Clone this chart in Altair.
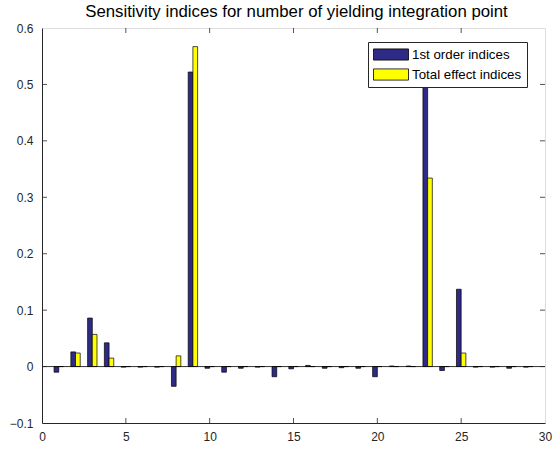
import altair as alt
import pandas as pd

title_text = ["Sensitivity indices for number of yielding integration point"]
idx = list(range(1, 30))
first_order = [-0.010, 0.026, 0.086, 0.042, -0.001, -0.001, -0.001, -0.035, 0.522, -0.003,
               -0.010, -0.003, -0.001, -0.018, -0.004, 0.002, -0.003, -0.002, -0.003, -0.018,
               0.001, 0.001, 0.540, -0.007, 0.137, -0.001, -0.001, -0.003, -0.001]
total_effect = [0.000, 0.024, 0.057, 0.015, 0.000, 0.000, 0.000, 0.019, 0.567, 0.000,
                0.000, 0.000, 0.000, 0.000, 0.000, 0.000, 0.000, 0.000, 0.000, 0.000,
                0.000, 0.000, 0.334, 0.000, 0.024, 0.000, 0.000, 0.000, 0.000]
series_names = ["1st order indices", "Total effect indices"]
series_colors = ["#2E2A85", "#FFFF00"]
x_ticks = [5, 10, 15, 20, 25]
y_ticks = [0.0, 0.1, 0.2, 0.3, 0.4, 0.5]

W, H = 503, 395
FONT = "Liberation Sans"

df = pd.DataFrame({"idx": idx, series_names[0]: first_order, series_names[1]: total_effect})
long = df.melt(id_vars="idx", var_name="series", value_name="value")

xscale = alt.Scale(domain=[0, 30], nice=False, zero=False)
yscale = alt.Scale(domain=[-0.1, 0.6], nice=False, zero=False)

xaxis = alt.Axis(values=[0, 5, 10, 15, 20, 25, 30], ticks=False, grid=False, labelPadding=8,
                 labelFontSize=12, labelFont=FONT, labelColor="#262626", domainColor="#262626",
                 title=None, labelFlush=False)
yaxis = alt.Axis(values=[-0.1, 0, 0.1, 0.2, 0.3, 0.4, 0.5, 0.6], ticks=False, grid=False,
                 labelPadding=9, labelFontSize=12, labelFont=FONT, labelColor="#262626",
                 domainColor="#262626", title=None, format="~g", labelFlush=False)

# swatch 35 x 11 px drawn to the right of its nominal 14 px slot
rect_path = "M-1,-0.8L4,-0.8L4,0.8L-1,0.8Z"

bars = alt.Chart(long).transform_calculate(
    x0="datum.idx + (datum.series == 'Total effect indices' ? 0 : -0.28)",
    x1="datum.idx + (datum.series == 'Total effect indices' ? 0.28 : 0)",
    base="0",
).mark_bar(stroke="black", strokeWidth=0.7).encode(
    x=alt.X("x0:Q", scale=xscale, axis=xaxis),
    x2="x1:Q",
    y=alt.Y("value:Q", scale=yscale, axis=yaxis),
    y2="base:Q",
    fill=alt.Fill("series:N", scale=alt.Scale(domain=series_names, range=series_colors),
                  legend=alt.Legend(title=None, orient="none", legendX=326, legendY=14,
                                    symbolType=rect_path, symbolSize=196,
                                    symbolStrokeColor="black", symbolStrokeWidth=0.8,
                                    symbolOpacity=1,
                                    labelFont=FONT, labelFontSize=13.3, labelColor="black",
                                    labelOffset=24, rowPadding=5, padding=5,
                                    labelExpr="datum.label + '\u00a0\u00a0\u00a0'",
                                    strokeColor="#262626", fillColor="white",
                                    labelLimit=300)),
)

baseline = alt.Chart(pd.DataFrame({"v": [0.0]})).mark_rule(color="black", strokeWidth=0.8).encode(
    y=alt.Y("v:Q", scale=yscale), x=alt.value(0), x2=alt.value(W)
)

xt = pd.DataFrame({"t": x_ticks})
yt = pd.DataFrame({"t": y_ticks})
tick_style = dict(color="#262626", strokeWidth=0.8)
xt_bottom = alt.Chart(xt).mark_rule(**tick_style).encode(
    x=alt.X("t:Q", scale=xscale), y=alt.value(H), y2=alt.value(H - 5))
xt_top = alt.Chart(xt).mark_rule(**tick_style).encode(
    x=alt.X("t:Q", scale=xscale), y=alt.value(0), y2=alt.value(5))
yt_left = alt.Chart(yt).mark_rule(**tick_style).encode(
    y=alt.Y("t:Q", scale=yscale), x=alt.value(0), x2=alt.value(5))
yt_right = alt.Chart(yt).mark_rule(**tick_style).encode(
    y=alt.Y("t:Q", scale=yscale), x=alt.value(W), x2=alt.value(W - 5))

title = alt.Chart(pd.DataFrame({"t": title_text})).mark_text(
    font=FONT, fontSize=16.8, color="black", align="center", baseline="alphabetic"
).encode(text="t:N", x=alt.value(W / 2 + 3), y=alt.value(-11.5))

chart = alt.layer(bars, baseline, xt_bottom, xt_top, yt_left, yt_right, title).properties(
    width=W, height=H,
    autosize=alt.AutoSizeParams(type="none"),
    padding={"left": 42, "top": 28, "right": 11, "bottom": 31},
).configure_view(stroke="#262626", strokeWidth=1).configure(background="white")

chart.save("out.html", embed_options={"renderer": "svg", "actions": False})
